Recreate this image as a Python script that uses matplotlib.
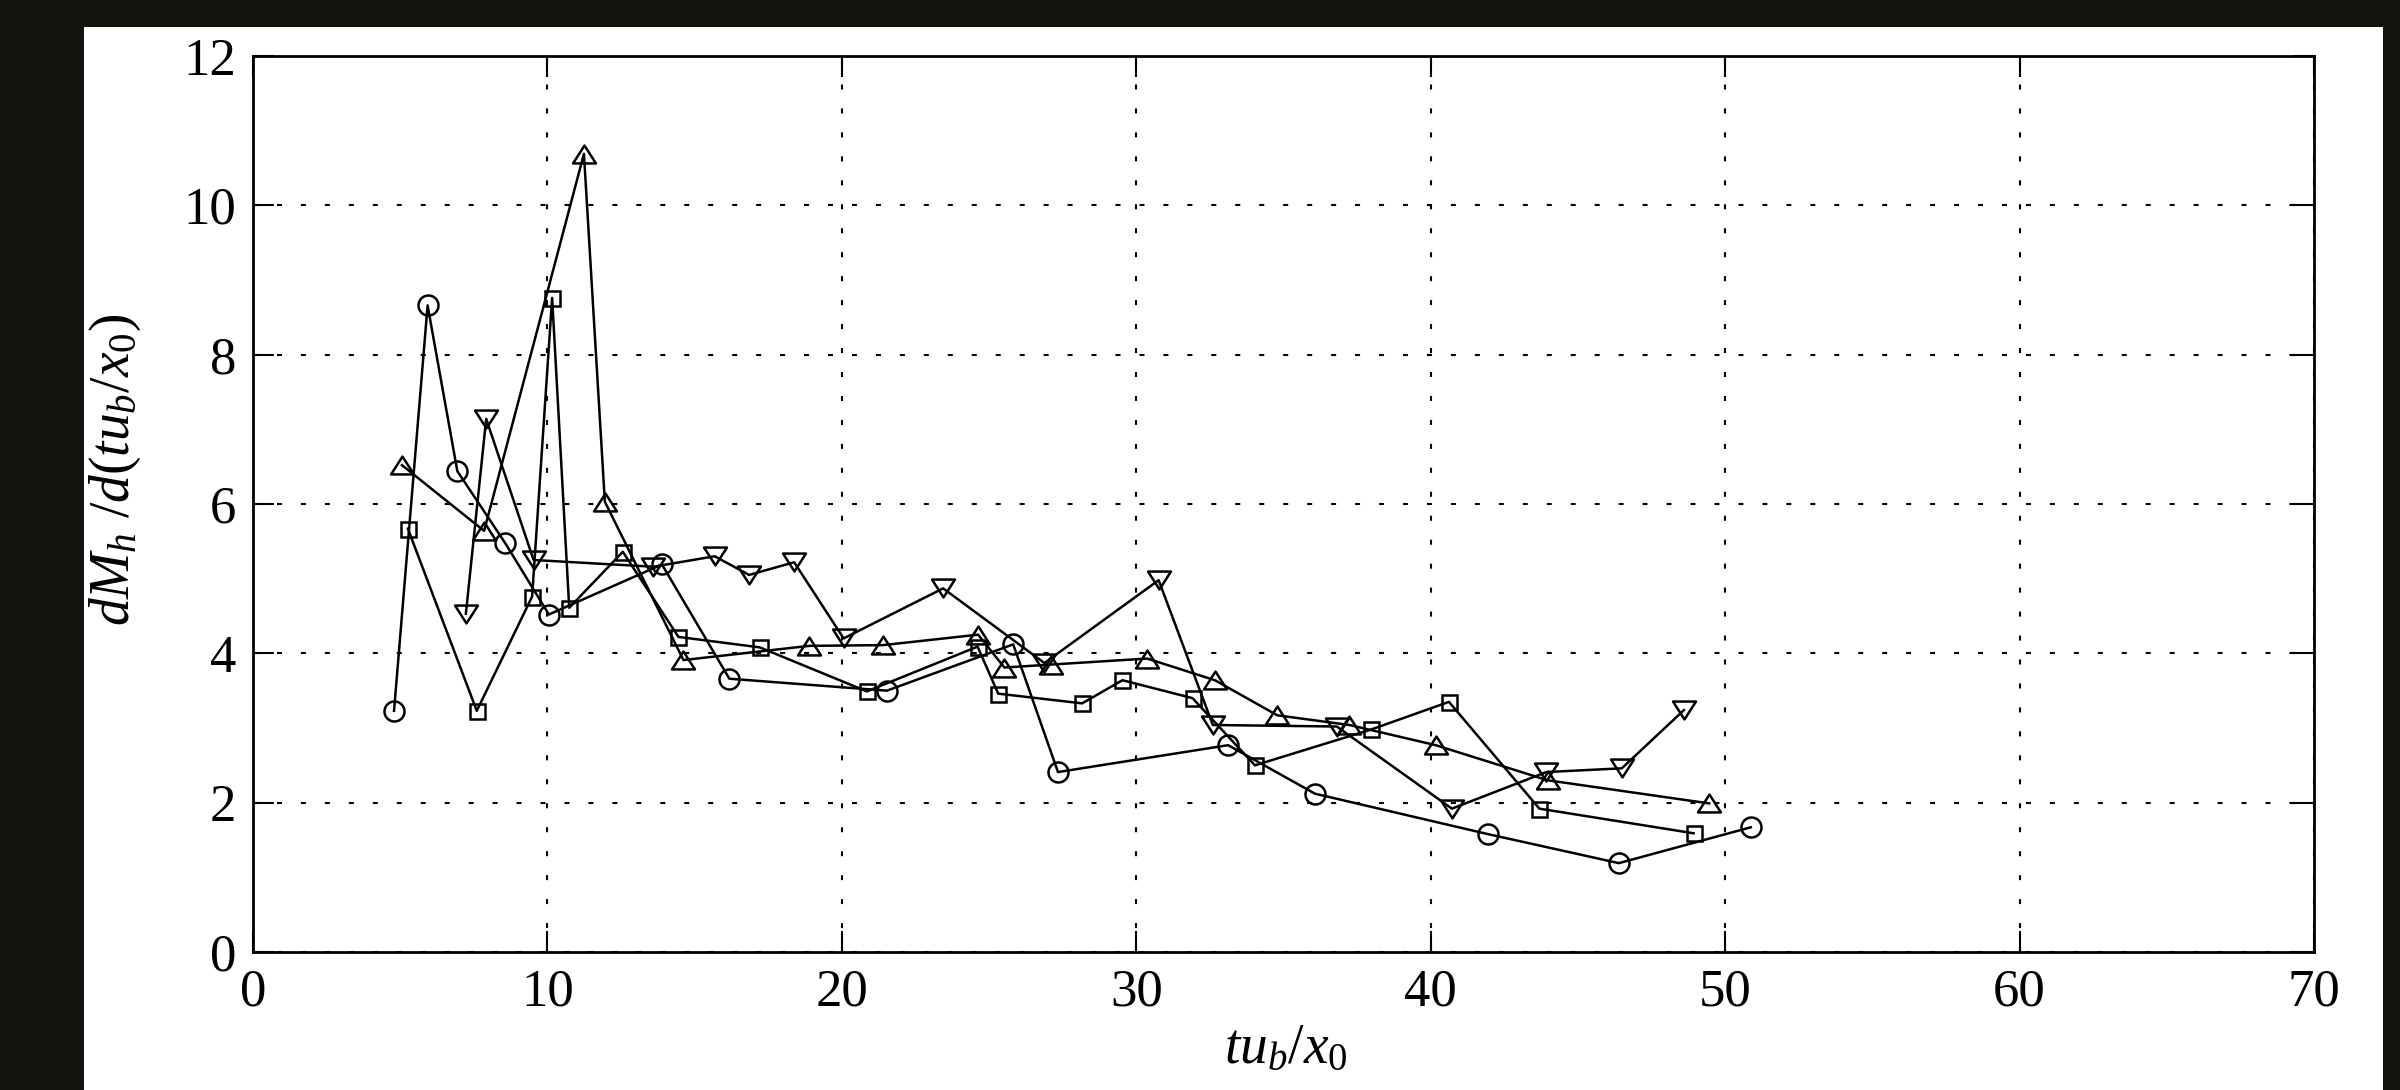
import numpy as np
import matplotlib
matplotlib.use("Agg")
import matplotlib.pyplot as plt
from matplotlib.patches import Rectangle
from matplotlib.path import Path
from matplotlib.markers import MarkerStyle

plt.rcParams['font.family'] = ['Liberation Serif', 'DejaVu Serif']
plt.rcParams['mathtext.fontset'] = 'custom'
plt.rcParams['mathtext.rm'] = 'Liberation Serif'
plt.rcParams['mathtext.it'] = 'Liberation Serif:italic'

# data
circ_x = [4.79, 5.93, 6.94, 8.56, 10.05, 13.89, 16.18, 21.53, 25.82, 27.34,
          33.12, 36.07, 41.93, 46.39, 50.87]
circ_y = [3.23, 8.66, 6.44, 5.48, 4.52, 5.19, 3.66, 3.50, 4.12, 2.41,
          2.77, 2.12, 1.58, 1.19, 1.67]

sq_x = [5.26, 7.60, 9.48, 10.16, 10.74, 12.56, 14.45, 17.21, 20.85, 24.61,
        25.31, 28.16, 29.53, 31.91, 34.03, 37.98, 40.62, 43.69, 48.93]
sq_y = [5.67, 3.23, 4.76, 8.76, 4.61, 5.36, 4.22, 4.08, 3.49, 4.09,
        3.46, 3.33, 3.64, 3.40, 2.50, 2.98, 3.35, 1.92, 1.59]

up_x = [5.06, 7.85, 11.24, 11.95, 14.62, 18.89, 21.40, 24.63, 25.52, 27.12,
        30.37, 32.67, 34.79, 37.24, 40.17, 43.97, 49.46]
up_y = [6.52, 5.64, 10.69, 6.03, 3.91, 4.10, 4.11, 4.25, 3.81, 3.85,
        3.93, 3.64, 3.17, 3.04, 2.77, 2.30, 1.99]

dn_x = [7.23, 7.92, 9.53, 13.60, 15.68, 16.85, 18.38, 20.06, 23.44, 26.88,
        30.76, 32.60, 36.81, 40.72, 43.93, 46.49, 48.60]
dn_y = [4.53, 7.14, 5.25, 5.16, 5.30, 5.05, 5.22, 4.20, 4.87, 3.87,
        4.98, 3.04, 3.02, 1.92, 2.41, 2.46, 3.24]

xticks = [0, 10, 20, 30, 40, 50, 60, 70]
yticks = [0, 2, 4, 6, 8, 10, 12]

# flattened triangles (wider than tall)
h = 0.78
tri_up = MarkerStyle(Path([(-1, -h), (1, -h), (0, h), (-1, -h)], closed=True), joinstyle='miter')
tri_dn = MarkerStyle(Path([(-1, h), (1, h), (0, -h), (-1, h)], closed=True), joinstyle='miter')

fig = plt.figure(figsize=(24, 10.9), dpi=100)
fig.patch.set_facecolor('#13120e')
# white page area inside the dark border
fig.patches.append(Rectangle((84 / 2400, 0), (2383 - 84) / 2400, 1 - 27 / 1090,
                             transform=fig.transFigure, facecolor='white',
                             edgecolor='none', zorder=-5))

ax = fig.add_axes([253 / 2400, 1 - 952 / 1090, (2314 - 253) / 2400, (952 - 56) / 1090])

lw = 1.8
kw = dict(color='k', lw=lw, markerfacecolor='none', markeredgecolor='k', markeredgewidth=lw)
ax.plot(circ_x, circ_y, marker='o', ms=14.4, **kw)
ax.plot(sq_x, sq_y, marker='s', ms=10.8, **kw)
ax.plot(up_x, up_y, marker=tri_up, ms=16.5, **kw)
ax.plot(dn_x, dn_y, marker=tri_dn, ms=16.5, **kw)

ax.set_xlim(0, 70)
ax.set_ylim(0, 12)
ax.set_xticks(xticks)
ax.set_yticks(yticks)
ax.set_axisbelow(True)
ax.grid(True, color='k', lw=1.5, linestyle=(0, (2.4, 9.1)))
ax.tick_params(direction='in', length=15, width=1.5, top=True, right=True,
               labelsize=38, pad=12)
for s in ax.spines.values():
    s.set_linewidth(2.0)

fig.text(1286 / 2400, 1 - 1063 / 1090, r'$tu_b/x_0$', fontsize=40,
         ha='center', va='baseline')
fig.text(115 / 2400, 1 - 470 / 1090, r'$dM_h\ /d(tu_b/x_0)$', fontsize=40,
         ha='center', va='center', rotation=90)

fig.savefig('out.png', dpi=100, facecolor=fig.get_facecolor())
